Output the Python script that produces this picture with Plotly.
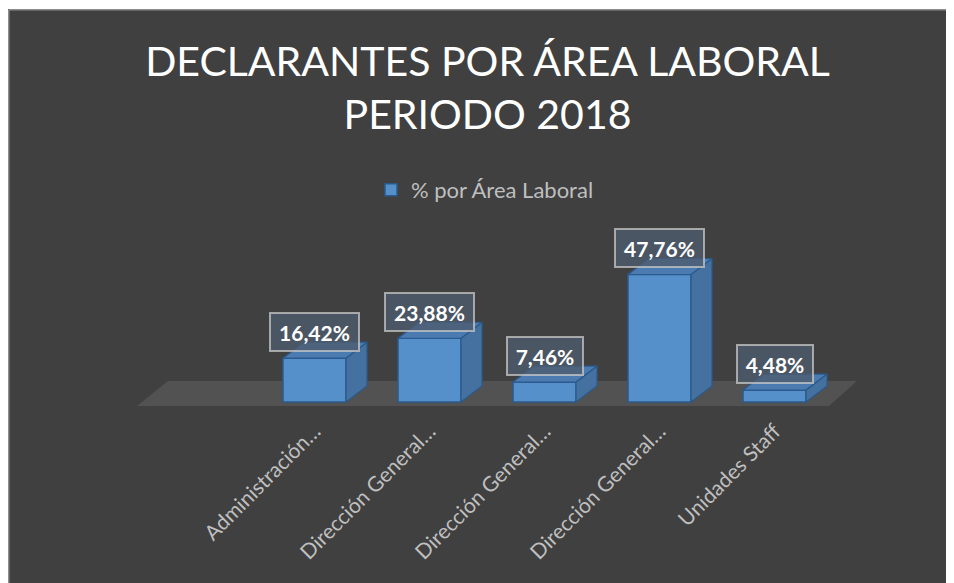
import plotly.graph_objects as go

# ---- data ----
categories = ["Administración…", "Dirección General…", "Dirección General…",
              "Dirección General…", "Unidades Staff"]
values = [16.42, 23.88, 7.46, 47.76, 4.48]
labels = ["16,42%", "23,88%", "7,46%", "47,76%", "4,48%"]
series_name = "% por Área Laboral"

# ---- layout geometry (page pixels; the page adds an 8px body margin) ----
W, H = 954, 583
OFF = 8
FW, FH = W - OFF, H - OFF               # figure size so the page does not scroll
PL, PR, PT, PB = 137, 857, 200, 414     # plot area in page pixels
ML, MT = PL - OFF, PT - OFF
MR, MB = W - PR, H - PB
PX_PER_CAT = 115.0
PX_PER_UNIT = 2.67
FIRST_CENTER_PX = 314.5                 # page px
ZERO_PX = 402.0                         # page px

pw = PR - PL
ph = PB - PT
x0 = (PL - FIRST_CENTER_PX) / PX_PER_CAT
x_range = [x0, x0 + pw / PX_PER_CAT]
y_bottom = -(PB - ZERO_PX) / PX_PER_UNIT
y_range = [y_bottom, y_bottom + ph / PX_PER_UNIT]

def px_x(px):  # page px -> paper x
    return (px - PL) / pw

def px_y(py):  # page px -> paper y
    return (PB - py) / ph

def cat_x(px):
    return (px - FIRST_CENTER_PX) / PX_PER_CAT

def val_y(py):
    return (ZERO_PX - py) / PX_PER_UNIT

BW = 63 / PX_PER_CAT          # bar width (category units)
DX = 21 / PX_PER_CAT          # depth x offset
DY = 16 / PX_PER_UNIT         # depth y offset

FRONT = "#5590cb"
SIDE = "#44719f"
TOP = "#4b7bb0"
EDGE = "#2a5a8c"
BG = "#404040"

fig = go.Figure()

xs = list(range(len(values)))
fig.add_trace(go.Bar(
    x=xs, y=values, width=BW, name=series_name,
    marker=dict(color=FRONT, line=dict(color=EDGE, width=1.5)),
    showlegend=True, hoverinfo="skip"))

for i, v in zip(xs, values):
    l, r = i - BW / 2, i + BW / 2
    fig.add_trace(go.Scatter(
        x=[r, r + DX, r + DX, r, r], y=[0, DY, v + DY, v, 0],
        fill="toself", fillcolor=SIDE, mode="lines",
        line=dict(color=EDGE, width=1.2), showlegend=False, hoverinfo="skip"))
    fig.add_trace(go.Scatter(
        x=[l, r, r + DX, l + DX, l], y=[v, v, v + DY, v + DY, v],
        fill="toself", fillcolor=TOP, mode="lines",
        line=dict(color=EDGE, width=1.2), showlegend=False, hoverinfo="skip"))

# floor
fy_front, fy_back = val_y(406), val_y(381)
shapes = [
    dict(type="path", xref="x", yref="y", layer="below",
         path=(f"M {cat_x(137)},{fy_front} L {cat_x(829)},{fy_front} "
               f"L {cat_x(857)},{fy_back} L {cat_x(168)},{fy_back} Z"),
         fillcolor="#525252", line=dict(width=0)),
    # white strip on top and grey frame lines
    dict(type="rect", xref="paper", yref="paper",
         x0=px_x(OFF - 5), x1=px_x(W + 20), y0=px_y(9), y1=px_y(OFF - 5),
         fillcolor="white", line=dict(width=0), layer="below"),
    dict(type="line", xref="paper", yref="paper",
         x0=px_x(OFF + 0.75), x1=px_x(W + 20), y0=px_y(9.75), y1=px_y(9.75),
         line=dict(color="#8c8c8c", width=1.5), layer="below"),
    dict(type="line", xref="paper", yref="paper",
         x0=px_x(OFF + 0.75), x1=px_x(OFF + 0.75), y0=px_y(9.75), y1=px_y(H + 20),
         line=dict(color="#8c8c8c", width=1.5), layer="below"),
]

annotations = []
for i, v, t in zip(xs, values, labels):
    annotations.append(dict(
        x=i, y=v, xref="x", yref="y", text=f"<b>{t}</b>", showarrow=False,
        yshift=26, width=13 * len(t) - 1, height=26,
        font=dict(family="Lato", size=21, color="white"),
        bgcolor="rgba(78,92,110,0.78)", bordercolor="rgba(200,200,200,0.75)",
        borderwidth=2, borderpad=5))

fig.update_layout(
    width=FW, height=FH,
    margin=dict(l=ML, r=MR, t=MT, b=MB),
    paper_bgcolor=BG, plot_bgcolor="rgba(0,0,0,0)",
    title=dict(text="DECLARANTES POR ÁREA LABORAL<br>PERIODO 2018",
               x=(487.5 - OFF) / FW, xanchor="center", y=1 - 68 / FH, yanchor="top",
               font=dict(family="Lato", size=41, color="white")),
    legend=dict(orientation="h", x=px_x(363 + OFF), xanchor="left",
                y=px_y(190), yanchor="middle",
                font=dict(family="Lato", size=22, color="#bfbfbf"),
                bgcolor="rgba(0,0,0,0)"),
    xaxis=dict(range=x_range, tickmode="array", tickvals=xs, ticktext=categories,
               tickangle=-45, showgrid=False, zeroline=False, showline=False,
               ticks="", tickfont=dict(family="Lato", size=21, color="#bfbfbf")),
    yaxis=dict(range=y_range, showgrid=False, zeroline=False, showline=False,
               showticklabels=False, ticks=""),
    shapes=shapes, annotations=annotations,
    font=dict(family="Lato"), showlegend=True,
)

fig.write_html("out.html")
